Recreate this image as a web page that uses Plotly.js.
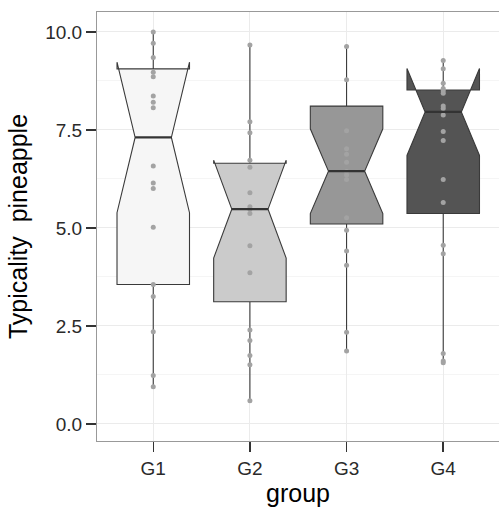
<!DOCTYPE html>
<html>
<head>
<meta charset="utf-8">
<script src="https://cdn.plot.ly/plotly-3.0.1.min.js"></script>
<style>html,body{margin:0;padding:0;background:#fff;}#chart{width:499px;height:507px;}</style>
</head>
<body>
<div id="chart"></div>
<script>
// Categories
const groups = ["G1", "G2", "G3", "G4"];
// Box statistics
const q1Vals = [3.56, 3.12, 5.10, 5.37];
const medianVals = [7.31, 5.48, 6.45, 7.96];
const q3Vals = [9.06, 6.65, 8.11, 8.52];
const lowerWhisker = [0.95, 0.59, 1.86, 1.56];
const upperWhisker = [10.0, 9.67, 9.63, 9.27];
const notchSpans = [1.92, 1.25, 1.08, 1.11];
// Raw observations per group
const ptsG1 = [10.0, 9.71, 9.35, 8.97, 8.86, 8.37, 8.21, 8.07, 6.58, 6.15, 6.01, 5.02, 3.56, 3.25, 2.35, 1.24, 0.95];
const ptsG2 = [9.67, 7.71, 7.43, 6.73, 6.55, 5.90, 5.54, 5.48, 5.37, 4.55, 3.86, 2.40, 2.13, 1.75, 1.51, 0.59];
const ptsG3 = [9.63, 8.78, 7.48, 7.02, 6.88, 6.68, 6.44, 6.35, 6.24, 5.26, 4.94, 4.41, 4.05, 2.34, 1.86];
const ptsG4 = [9.27, 9.06, 8.69, 8.56, 8.50, 8.44, 8.11, 8.05, 7.88, 7.46, 7.23, 6.24, 5.65, 4.56, 4.34, 1.80, 1.61, 1.56];
const points = [ptsG1, ptsG2, ptsG3, ptsG4];
// Tick labels
const yTickVals = [0, 2.5, 5, 7.5, 10];
const yTickText = ["0.0", "2.5", "5.0", "7.5", "10.0"];

const fills = ["#f6f6f6", "#cbcbcb", "#979797", "#545454"];
const boxWidth = 0.75;
const notchW = 0.25;

const traces = [];
groups.forEach((g, i) => {
  traces.push({
    type: "box",
    x: [g],
    q1: [q1Vals[i]],
    median: [medianVals[i]],
    q3: [q3Vals[i]],
    lowerfence: [lowerWhisker[i]],
    upperfence: [upperWhisker[i]],
    notchspan: [notchSpans[i]],
    notched: true,
    notchwidth: notchW,
    width: boxWidth,
    whiskerwidth: 0,
    boxpoints: false,
    fillcolor: fills[i],
    line: { color: "#3a3a3a", width: 1.1 },
    hoverinfo: "skip",
    showlegend: false
  });
});
groups.forEach((g, i) => {
  traces.push({
    type: "scatter",
    mode: "markers",
    x: points[i].map(() => g),
    y: points[i],
    marker: { color: "#a3a3a3", size: 5 },
    hoverinfo: "skip",
    showlegend: false
  });
});

const shapes = groups.map((g, i) => ({
  type: "line",
  xref: "x", yref: "y",
  x0: i - boxWidth / 4, x1: i + boxWidth / 4,
  y0: medianVals[i], y1: medianVals[i],
  line: { color: "#333333", width: 2.2 },
  layer: "above"
}));

const layout = {
  width: 499, height: 507,
  margin: { l: 97, r: 0, t: 12, b: 66 },
  paper_bgcolor: "#ffffff",
  plot_bgcolor: "#ffffff",
  font: { family: "Liberation Sans, Arial, sans-serif", color: "#333333" },
  shapes: shapes,
  xaxis: {
    type: "category",
    categoryarray: groups,
    range: [-0.582, 3.577],
    showgrid: true, gridcolor: "#ebebeb", gridwidth: 1,
    showline: true, linecolor: "#999999", linewidth: 1, mirror: true,
    ticks: "outside", ticklen: 10, tickwidth: 1.5, tickcolor: "#333333",
    tickfont: { size: 19, color: "#2a2a2a" },
    zeroline: false,
    title: { text: "group", font: { size: 25, color: "#000000" }, standoff: 9 },
    automargin: false,
    fixedrange: true
  },
  yaxis: {
    range: [-0.434, 10.51],
    tickvals: yTickVals,
    ticktext: yTickText,
    showgrid: true, gridcolor: "#ebebeb", gridwidth: 1,
    minor: { dtick: 1.25, tick0: 0, showgrid: true, gridcolor: "#f5f5f5", gridwidth: 1, ticks: "" },
    showline: true, linecolor: "#999999", linewidth: 1, mirror: false,
    ticks: "outside", ticklen: 10, tickwidth: 1.5, tickcolor: "#333333",
    tickfont: { size: 19, color: "#2a2a2a" },
    zeroline: false,
    title: { text: "Typicality\u00a0 pineapple", font: { size: 25, color: "#000000" }, standoff: 10 },
    automargin: false,
    fixedrange: true
  }
};

Plotly.newPlot("chart", traces, layout, { displayModeBar: false, staticPlot: true });
</script>
</body>
</html>
